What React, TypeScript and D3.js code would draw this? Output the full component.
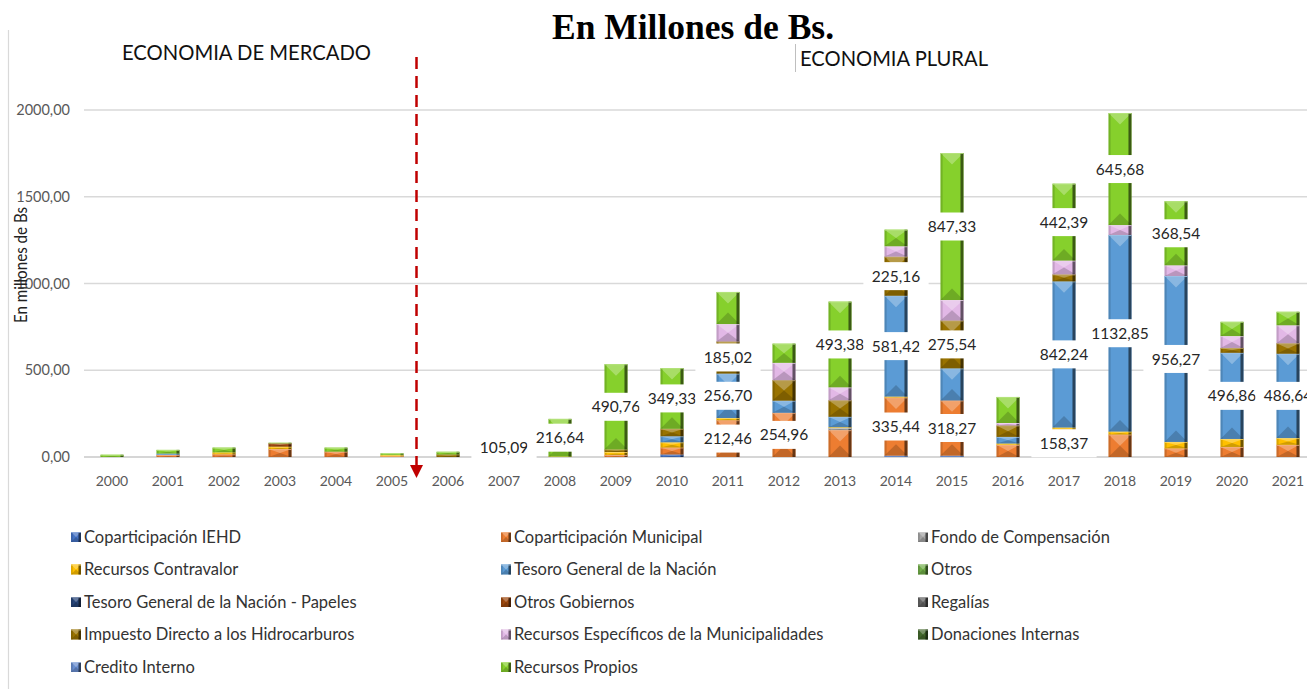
import React from 'react';
import * as d3 from 'd3';

const years = ['2000', '2001', '2002', '2003', '2004', '2005', '2006', '2007', '2008', '2009', '2010',
  '2011', '2012', '2013', '2014', '2015', '2016', '2017', '2018', '2019', '2020', '2021'];

// values per source of financing (millions of Bs), one entry per year
const coparticipacionIEHD = [0, 0, 0, 0, 0, 0, 0, 0, 0, 0, 15, 0, 0, 0, 8, 8, 0, 0, 0, 0, 0, 0];
const coparticipacionMunicipal = [0, 12, 16, 46, 31, 5, 0, 0, 0, 12, 40, 212.46, 254.96, 155, 335.44, 318.27, 70, 158.37, 130, 50, 58, 70];
const fondoCompensacion = [0, 0, 0, 0, 0, 0, 0, 0, 0, 0, 0, 0, 0, 12, 0, 0, 0, 0, 0, 0, 0, 0];
const recursosContravalor = [0, 0, 11, 14, 0, 6, 0, 0, 3, 17, 30, 12, 0, 5, 5, 0, 8, 12, 17, 37, 46, 39];
const tesoroGeneral = [0, 8, 0, 0, 0, 0, 0, 0, 0, 0, 35, 256.7, 70, 60, 581.42, 185, 38, 842.24, 1132.85, 956.27, 496.86, 486.64];
const otros = [0, 0, 0, 0, 0, 0, 0, 0, 0, 0, 0, 0, 0, 0, 0, 0, 0, 0, 0, 0, 0, 0];
const tesoroPapeles = [0, 0, 0, 0, 0, 0, 0, 0, 0, 0, 0, 0, 0, 0, 0, 0, 0, 0, 0, 0, 0, 0];
const otrosGobiernos = [0, 0, 0, 19, 0, 0, 0, 0, 0, 0, 0, 0, 0, 0, 0, 0, 0, 0, 0, 0, 0, 0];
const regalias = [0, 0, 0, 0, 0, 0, 0, 0, 0, 0, 0, 0, 0, 0, 0, 0, 0, 0, 0, 0, 0, 0];
const impuestoHidrocarburos = [0, 0, 0, 0, 0, 0, 15, 0, 0, 15, 43, 185.02, 118, 95, 225.16, 275.54, 66, 40, 0, 0, 28, 60];
const recursosEspecificos = [0, 0, 0, 0, 0, 0, 0, 0, 0, 0, 0, 100, 100, 75, 60, 118, 14, 80, 57, 62, 68, 104];
const donacionesInternas = [0, 0, 0, 0, 0, 0, 0, 0, 0, 0, 0, 0, 0, 0, 0, 0, 0, 0, 0, 0, 0, 0];
const creditoInterno = [0, 0, 0, 0, 0, 0, 0, 0, 0, 0, 0, 0, 0, 0, 0, 0, 0, 0, 0, 0, 0, 0];
const recursosPropios = [13, 21, 27, 3, 23, 10, 15, 105.09, 216.64, 490.76, 349.33, 185, 110, 493.38, 95, 847.33, 150, 442.39, 645.68, 368.54, 82, 77];

const seriesNames = [
  'Coparticipación IEHD', 'Coparticipación Municipal', 'Fondo de Compensación',
  'Recursos Contravalor', 'Tesoro General de la Nación', 'Otros',
  'Tesoro General de la Nación - Papeles', 'Otros Gobiernos', 'Regalías',
  'Impuesto Directo a los Hidrocarburos', 'Recursos Específicos de la Municipalidades', 'Donaciones Internas',
  'Credito Interno', 'Recursos Propios'
];
const seriesValues = [
  coparticipacionIEHD, coparticipacionMunicipal, fondoCompensacion,
  recursosContravalor, tesoroGeneral, otros,
  tesoroPapeles, otrosGobiernos, regalias,
  impuestoHidrocarburos, recursosEspecificos, donacionesInternas,
  creditoInterno, recursosPropios
];
const seriesColors = [
  '#4472C4', '#ED7D31', '#A5A5A5',
  '#FFC000', '#5B9BD5', '#70AD47',
  '#264478', '#9E480E', '#636363',
  '#997300', '#E2B8E6', '#43682B',
  '#698ED0', '#86D02C'
];

// which segments carry a data label: [year, series name]
const dataLabels: [string, string][] = [
  ['2007', 'Recursos Propios'], ['2008', 'Recursos Propios'], ['2009', 'Recursos Propios'],
  ['2010', 'Recursos Propios'],
  ['2011', 'Coparticipación Municipal'], ['2011', 'Tesoro General de la Nación'], ['2011', 'Impuesto Directo a los Hidrocarburos'],
  ['2012', 'Coparticipación Municipal'], ['2013', 'Recursos Propios'],
  ['2014', 'Coparticipación Municipal'], ['2014', 'Tesoro General de la Nación'], ['2014', 'Impuesto Directo a los Hidrocarburos'],
  ['2015', 'Coparticipación Municipal'], ['2015', 'Impuesto Directo a los Hidrocarburos'], ['2015', 'Recursos Propios'],
  ['2017', 'Coparticipación Municipal'], ['2017', 'Tesoro General de la Nación'], ['2017', 'Recursos Propios'],
  ['2018', 'Tesoro General de la Nación'], ['2018', 'Recursos Propios'],
  ['2019', 'Tesoro General de la Nación'], ['2019', 'Recursos Propios'],
  ['2020', 'Tesoro General de la Nación'], ['2021', 'Tesoro General de la Nación']
];

const yTicks = [0, 500, 1000, 1500, 2000];

const W = 1307;
const H = 689;
const FONT = 'Lato, "Open Sans", sans-serif';

const esLocale = d3.formatLocale({ decimal: ',', thousands: '.', grouping: [3], currency: ['', ''] });
const fmt = esLocale.format('.2f');

const rows = years.map((yr, i) => {
  const row: Record<string, any> = { year: yr };
  seriesNames.forEach((name, s) => { row[name] = seriesValues[s][i]; });
  return row;
});

// Excel-like bevelled box: light top wedge, dark bottom wedge, dark right edge
const BevelBox = ({ x, y, w, h, color }: { x: number; y: number; w: number; h: number; color: string }) => {
  if (h <= 0.3) return null;
  const d = Math.min(w / 2, h / 2, 12);
  const light = d3.interpolateRgb(color, '#ffffff')(0.4);
  const dark = d3.interpolateRgb(color, '#000000')(0.45);
  const darker = d3.interpolateRgb(color, '#000000')(0.8);
  const x1 = x + w;
  const y1 = y + h;
  const side = Math.min(3, w / 4);
  return (
    <g>
      <rect x={x} y={y} width={w} height={h} fill={color} />
      <polygon points={`${x},${y} ${x1},${y} ${x + w / 2},${y + d}`} fill={light} opacity={0.7} />
      <polygon points={`${x},${y1} ${x1},${y1} ${x + w / 2},${y1 - d}`} fill={dark} opacity={0.4} />
      <rect x={x} y={y} width={side * 0.7} height={h} fill={dark} opacity={0.3} />
      <rect x={x1 - side} y={y} width={side} height={h} fill={darker} opacity={0.7} />
      <rect x={x} y={y} width={w} height={Math.min(1, h)} fill={light} opacity={0.8} />
    </g>
  );
};

export default function App() {
  const x = d3.scaleBand<string>()
    .domain(years)
    .range([84, 84 + 56 * years.length])
    .paddingInner(0.59)
    .paddingOuter(0.295);
  const y = d3.scaleLinear().domain([0, 2000]).range([457, 110]);

  const stack = d3.stack<Record<string, any>>().keys(seriesNames);
  const layers = stack(rows);
  const bw = x.bandwidth();

  const labelItems = dataLabels.map(([yr, name]) => {
    const layer = layers[seriesNames.indexOf(name)];
    const seg = layer[years.indexOf(yr)];
    return {
      key: yr + name,
      cx: (x(yr) as number) + bw / 2,
      cy: y((seg[0] + seg[1]) / 2),
      text: fmt(seg[1] - seg[0])
    };
  });

  return (
    <svg width={W} height={H} style={{ position: 'absolute', left: 0, top: 0, display: 'block', background: '#fff' }}>
      {/* chart area left border */}
      <line x1={8.5} x2={8.5} y1={30} y2={H} stroke="#D9D9D9" strokeWidth={1.2} />

      {/* titles */}
      <text x={693} y={39} textAnchor="middle" fontFamily='"Liberation Serif", serif' fontWeight="bold" fontSize={35.5} fill="#000">
        En Millones de Bs.
      </text>
      <text x={122} y={60} fontFamily={FONT} fontSize={21} textLength={249} lengthAdjust="spacingAndGlyphs" fill="#111">
        ECONOMIA DE MERCADO
      </text>
      <line x1={795.5} x2={795.5} y1={44} y2={72} stroke="#BFBFBF" strokeWidth={1} />
      <text x={800} y={66} fontFamily={FONT} fontSize={21} textLength={188} lengthAdjust="spacingAndGlyphs" fill="#111">
        ECONOMIA PLURAL
      </text>

      {/* gridlines and y axis */}
      {yTicks.map(t => (
        <g key={t}>
          <line x1={84} x2={W} y1={y(t)} y2={y(t)} stroke={t === 0 ? '#C8C8C8' : '#D9D9D9'} strokeWidth={1.3} />
          <text x={70} y={y(t)} dy="0.35em" textAnchor="end" fontFamily={FONT} fontSize={14.5} fill="#595959">
            {fmt(t)}
          </text>
        </g>
      ))}
      <text transform="translate(27,265) rotate(-90)" textAnchor="middle" fontFamily={FONT} fontSize={16.5}
        textLength={116} lengthAdjust="spacingAndGlyphs" fill="#222">
        En millones de Bs
      </text>

      {/* x axis labels */}
      {years.map(yr => (
        <text key={yr} x={(x(yr) as number) + bw / 2} y={486} textAnchor="middle" fontFamily={FONT} fontSize={14} fill="#595959">
          {yr}
        </text>
      ))}

      {/* stacked bars */}
      {layers.map((layer, s) => (
        <g key={seriesNames[s]}>
          {layer.map((seg, i) => (
            <BevelBox key={i}
              x={x(years[i]) as number}
              y={y(seg[1])}
              w={bw}
              h={y(seg[0]) - y(seg[1])}
              color={seriesColors[s]} />
          ))}
        </g>
      ))}

      {/* data labels with white boxes */}
      {labelItems.map(l => {
        const tw = l.text.length * 8.2;
        return (
          <g key={l.key}>
            <rect x={l.cx - tw / 2 - 8} y={l.cy - 14} width={tw + 16} height={28} fill="#fff" />
            <text x={l.cx} y={l.cy} dy="0.36em" textAnchor="middle" fontFamily={FONT} fontSize={15.5} fill="#262626">
              {l.text}
            </text>
          </g>
        );
      })}

      {/* separation between the two periods */}
      <line x1={416.5} x2={416.5} y1={57} y2={466} stroke="#C00000" strokeWidth={2.5} strokeDasharray="12 7" />
      <polygon points="410,465 423,465 416.5,478" fill="#C00000" />

      {/* legend */}
      {seriesNames.map((name, i) => {
        const colX = [71, 501, 918][i % 3];
        const rowY = 537 + Math.floor(i / 3) * 32.5;
        return (
          <g key={name}>
            <BevelBox x={colX} y={rowY - 5} w={10} h={10} color={seriesColors[i]} />
            <text x={colX + 13} y={rowY} dy="0.35em" fontFamily={FONT} fontSize={16.5} fill="#333">
              {name}
            </text>
          </g>
        );
      })}
    </svg>
  );
}
